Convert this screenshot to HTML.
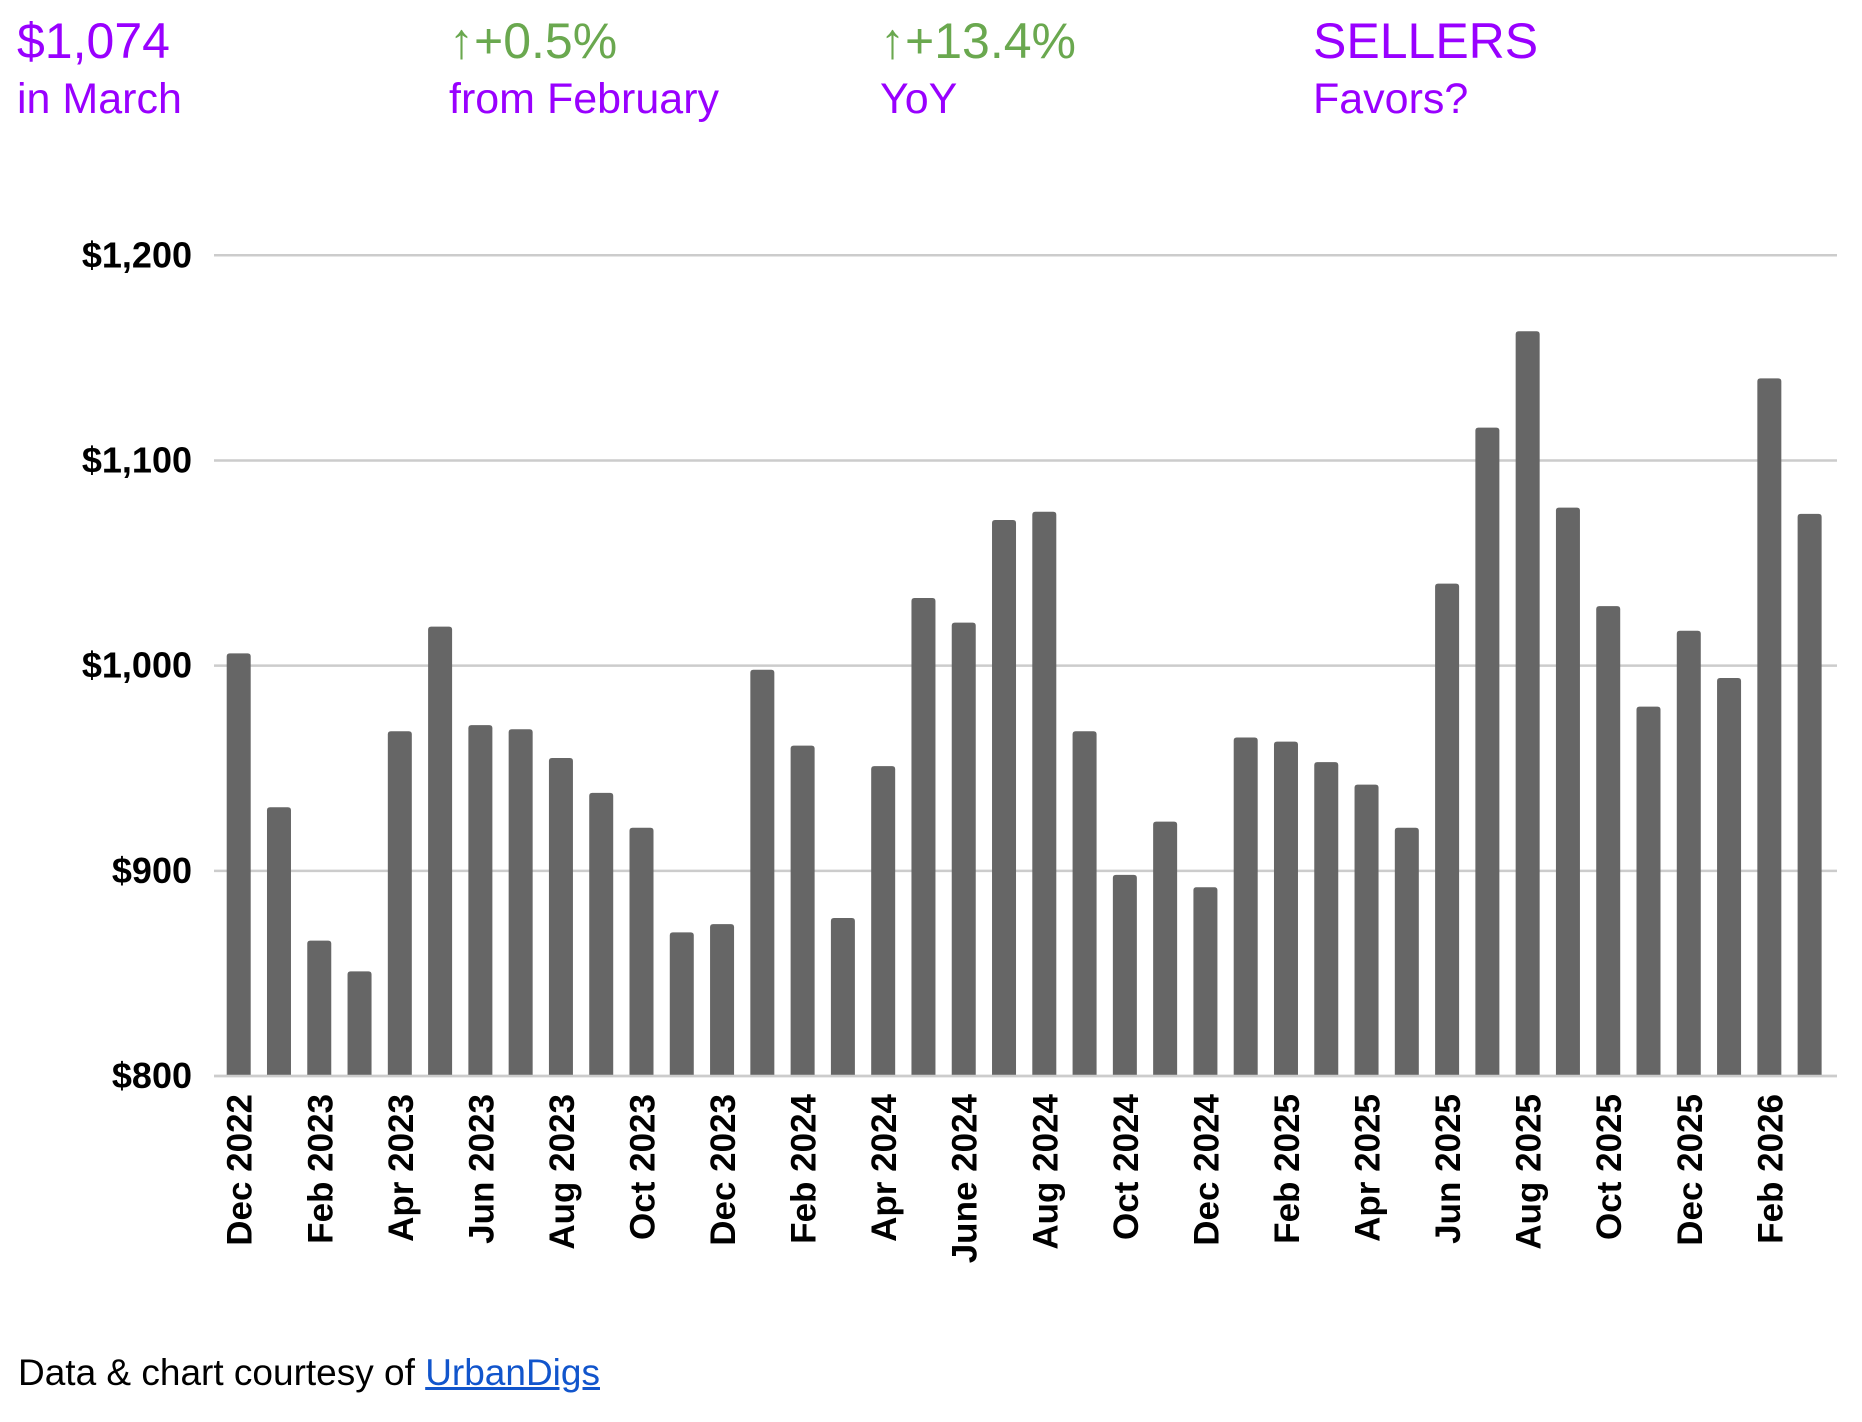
<!DOCTYPE html>
<html><head><meta charset="utf-8"><style>
body{margin:0;background:#fff;width:1862px;height:1422px;overflow:hidden;font-family:"Liberation Sans",sans-serif;}
.h{position:absolute;line-height:1;white-space:nowrap}
.p{color:#9900ff}.g{color:#6aa84f}
</style></head><body>
<div class="h p" style="left:17px;top:16px;font-size:50px">$1,074</div>
<div class="h p" style="left:17px;top:78px;font-size:43px">in March</div>
<div class="h g" style="left:449px;top:16px;font-size:50px">↑+0.5%</div>
<div class="h p" style="left:449px;top:78px;font-size:43px">from February</div>
<div class="h g" style="left:880px;top:16px;font-size:50px">↑+13.4%</div>
<div class="h p" style="left:880px;top:78px;font-size:43px">YoY</div>
<div class="h p" style="left:1313px;top:16px;font-size:50px">SELLERS</div>
<div class="h p" style="left:1313px;top:78px;font-size:43px">Favors?</div>
<svg id="chart" width="1862" height="1422" style="position:absolute;left:0;top:0"></svg>
<div class="h" style="left:18px;top:1354px;font-size:37px;color:#000">Data &amp; chart courtesy of <span style="color:#1155cc;text-decoration:underline">UrbanDigs</span></div>
<script>
const categories=["Dec 2022","Jan 2023","Feb 2023","Mar 2023","Apr 2023","May 2023","Jun 2023","Jul 2023","Aug 2023","Sep 2023","Oct 2023","Nov 2023","Dec 2023","Jan 2024","Feb 2024","Mar 2024","Apr 2024","May 2024","June 2024","Jul 2024","Aug 2024","Sep 2024","Oct 2024","Nov 2024","Dec 2024","Jan 2025","Feb 2025","Mar 2025","Apr 2025","May 2025","Jun 2025","Jul 2025","Aug 2025","Sep 2025","Oct 2025","Nov 2025","Dec 2025","Jan 2026","Feb 2026","Mar 2026"];
const values=[1006,931,866,851,968,1019,971,969,955,938,921,870,874,998,961,877,951,1033,1021,1071,1075,968,898,924,892,965,963,953,942,921,1040,1116,1163,1077,1029,980,1017,994,1140,1074];
const yTicks=[800,900,1000,1100,1200];
const yTickLabels=["$800","$900","$1,000","$1,100","$1,200"];
const NS="http://www.w3.org/2000/svg";
const svg=document.getElementById('chart');
const yMin=800,yMax=1200,yTop=255.3,yBot=1076;
const xLeft=214,xRight=1837,firstC=238.7,step=40.28,bw=24;
function y(v){return yBot-(v-yMin)/(yMax-yMin)*(yBot-yTop);}
function x(i){return firstC+i*step;}
function mk(t,a){const e=document.createElementNS(NS,t);for(const k in a)e.setAttribute(k,a[k]);svg.appendChild(e);return e;}
yTicks.forEach((t,i)=>{
  const l=mk('line',{x1:xLeft,x2:xRight,y1:y(t),y2:y(t),stroke:'#cccccc','stroke-width':2.5});
  
  
  const tx=mk('text',{x:192,y:y(t)+12,'text-anchor':'end','font-size':36,'font-weight':'bold','font-family':'Liberation Sans, sans-serif',fill:'#000'});
  tx.textContent=yTickLabels[i];
  
  
});
values.forEach((v,i)=>{
  const r=mk('path',{d:`M${x(i)-bw/2},${y(yMin)} V${y(v)+3} Q${x(i)-bw/2},${y(v)} ${x(i)-bw/2+3},${y(v)} H${x(i)+bw/2-3} Q${x(i)+bw/2},${y(v)} ${x(i)+bw/2},${y(v)+3} V${y(yMin)} Z`,fill:'#666666'});
  
  
  if(i%2===0){
    const t=mk('text',{x:0,y:0,'text-anchor':'end','font-size':35,'font-weight':'bold','font-family':'Liberation Sans, sans-serif',fill:'#000',transform:`translate(${x(i)+13},1094) rotate(-90)`});
    t.textContent=categories[i];
    
    
  }
});
const ax=mk('line',{x1:xLeft,x2:xRight,y1:yBot,y2:yBot,stroke:'#cccccc','stroke-width':2.5});


</script>
</body></html>
